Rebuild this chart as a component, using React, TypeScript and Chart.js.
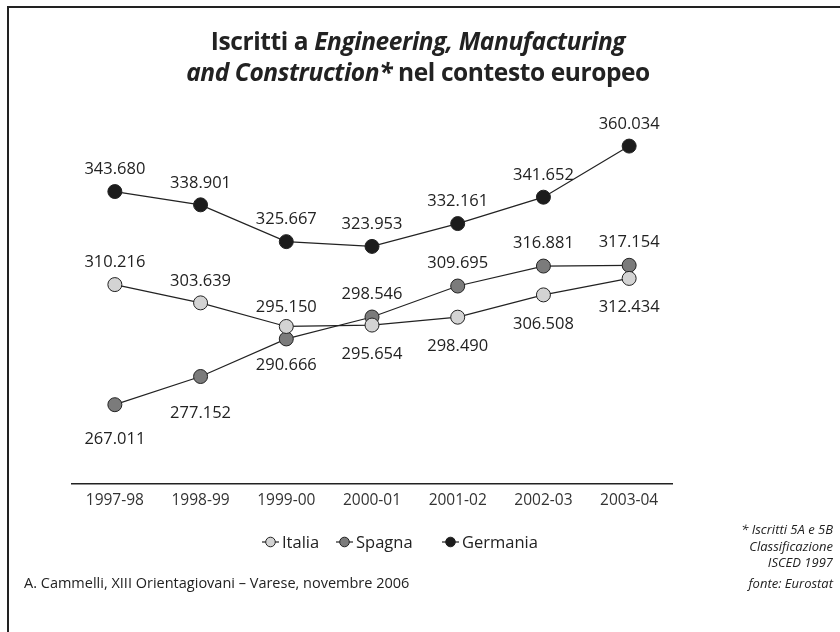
import React, { useEffect, useRef } from "react";
import { Chart, registerables } from "chart.js";

Chart.register(...registerables);

const categories = ["1997-98", "1998-99", "1999-00", "2000-01", "2001-02", "2002-03", "2003-04"];
const italia = [310.216, 303.639, 295.15, 295.654, 298.49, 306.508, 312.434];
const spagna = [267.011, 277.152, 290.666, 298.546, 309.695, 316.881, 317.154];
const germania = [343.68, 338.901, 325.667, 323.953, 332.161, 341.652, 360.034];
const seriesNames = ["Italia", "Spagna", "Germania"];
const seriesColors = ["#d3d3d3", "#7b7b7b", "#1c1c1c"];
// label placement: negative = above the point, positive = below
const italiaLabelOffset = [-22, -22, -19, 29, 29, 29, 29];
const spagnaLabelOffset = [35, 37, 26, -23, -23, -23, -23];
const germaniaLabelOffset = [-22, -22, -22, -22, -22, -22, -22];
// legend item left edges (px)
const legendX = [262, 336, 442];

const FONT = "'Open Sans', 'Noto Sans', sans-serif";

const fmt = (v: number) => v.toFixed(3);

const labelPlugin = {
  id: "pointLabels",
  afterDatasetsDraw(chart: any) {
    const ctx = chart.ctx;
    const offsets = [italiaLabelOffset, spagnaLabelOffset, germaniaLabelOffset];
    ctx.save();
    ctx.font = `16.5px ${FONT}`;
    ctx.fillStyle = "#222";
    ctx.textAlign = "center";
    ctx.textBaseline = "middle";
    chart.data.datasets.forEach((ds: any, i: number) => {
      const meta = chart.getDatasetMeta(i);
      meta.data.forEach((pt: any, j: number) => {
        ctx.fillText(fmt(ds.data[j]), pt.x, pt.y + offsets[i][j]);
      });
    });
    ctx.restore();
  },
};

function LegendSymbol({ color }: { color: string }) {
  return (
    <svg width="17" height="14" style={{ verticalAlign: "middle", marginRight: 3 }}>
      <line x1="0" y1="7" x2="17" y2="7" stroke="#222" strokeWidth="1.2" />
      <circle cx="8.5" cy="7" r="4.8" fill={color} stroke="#222" strokeWidth="1" />
    </svg>
  );
}

export default function App() {
  const ref = useRef<HTMLCanvasElement | null>(null);
  useEffect(() => {
    if (!ref.current) return;
    const seriesData = [italia, spagna, germania];
    const chart = new Chart(ref.current, {
      type: "line",
      data: {
        labels: categories,
        datasets: seriesData.map((d, i) => ({
          label: seriesNames[i],
          data: d,
          borderColor: "#222",
          borderWidth: 1.2,
          pointRadius: 7,
          pointHoverRadius: 7,
          pointBackgroundColor: seriesColors[i],
          pointBorderColor: "#222",
          pointBorderWidth: 1,
          tension: 0,
          clip: false as any,
        })),
      },
      options: {
        responsive: false,
        animation: false,
        layout: { padding: { left: 72, right: 168, top: 127, bottom: 114 } },
        plugins: { legend: { display: false }, title: { display: false }, tooltip: { enabled: false } },
        scales: {
          x: {
            offset: true,
            grid: { display: false, drawTicks: false },
            border: { display: true, color: "#222", width: 1.5 },
            ticks: { color: "#333", font: { family: FONT, size: 15.5 }, padding: 8 },
          },
          y: {
            display: false,
            min: 238.7,
            max: 366.9,
          },
        },
      },
      plugins: [labelPlugin],
    });
    return () => chart.destroy();
  }, []);

  return (
    <div style={{ position: "fixed", left: 0, top: 0, width: 840, height: 632, background: "#fff", overflow: "hidden", fontFamily: FONT, color: "#222" }}>
      <div style={{ position: "absolute", left: 7, top: 6, width: 840, height: 640, borderTop: "2px solid #222", borderLeft: "2px solid #222" }} />
      <canvas ref={ref} width={840} height={632} style={{ position: "absolute", left: 0, top: 0 }} />
      <div style={{ position: "absolute", left: 0, top: 25, width: 836, textAlign: "center", fontSize: 24.5, fontWeight: 700, lineHeight: "31px", letterSpacing: -0.4 }}>
        Iscritti a <i>Engineering, Manufacturing</i>
        <br />
        <i>and Construction*</i> nel contesto europeo
      </div>
      {seriesNames.map((n, i) => (
        <div key={n} style={{ position: "absolute", left: legendX[i], top: 528, fontSize: 16.5, whiteSpace: "nowrap" }}>
          <LegendSymbol color={seriesColors[i]} />
          <span style={{ verticalAlign: "middle" }}>{n}</span>
        </div>
      ))}
      <div style={{ position: "absolute", left: 24, top: 573, fontSize: 14.5 }}>
        A. Cammelli, XIII Orientagiovani – Varese, novembre 2006
      </div>
      <div style={{ position: "absolute", right: 7, top: 521, textAlign: "right", fontSize: 13, fontStyle: "italic", lineHeight: "16.5px" }}>
        * Iscritti 5A e 5B
        <br />
        Classificazione
        <br />
        ISCED 1997
      </div>
      <div style={{ position: "absolute", right: 7, top: 574, textAlign: "right", fontSize: 13, fontStyle: "italic" }}>
        fonte: Eurostat
      </div>
    </div>
  );
}
